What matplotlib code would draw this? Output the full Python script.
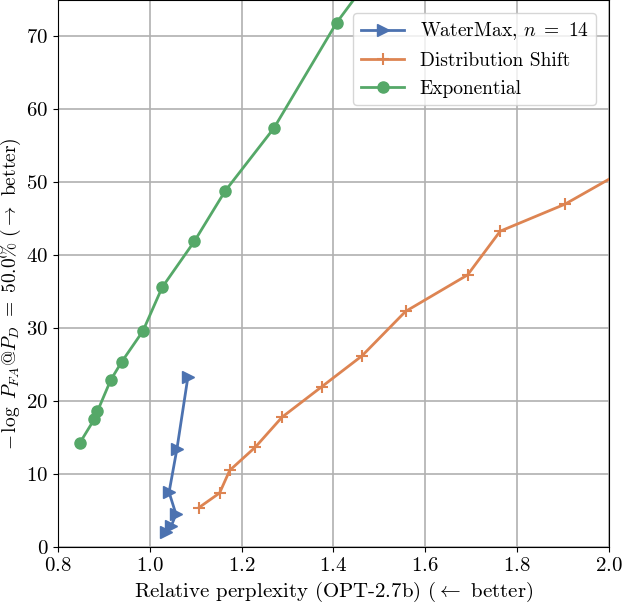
import matplotlib
matplotlib.use("Agg")
import matplotlib.pyplot as plt

plt.rcParams['font.family'] = ['cmr10', 'DejaVu Serif']
plt.rcParams['mathtext.fontset'] = 'cm'
plt.rcParams['axes.formatter.use_mathtext'] = True
plt.rcParams['axes.unicode_minus'] = False

# WaterMax, n = 14
wm_ppl = [1.083, 1.059, 1.042, 1.057, 1.047, 1.035]
wm_score = [23.3, 13.4, 7.5, 4.5, 2.9, 2.0]

# Distribution shift
ds_ppl = [1.107, 1.152, 1.174, 1.230, 1.288, 1.375, 1.462, 1.557, 1.692, 1.763, 1.904, 2.10]
ds_score = [5.4, 7.4, 10.5, 13.7, 17.8, 22.0, 26.2, 32.3, 37.3, 43.3, 47.0, 54.0]

# Exponential
exp_ppl = [0.848, 0.879, 0.886, 0.915, 0.939, 0.985, 1.027, 1.097, 1.164, 1.270, 1.407, 1.55]
exp_score = [14.3, 17.5, 18.6, 22.9, 25.4, 29.6, 35.6, 41.9, 48.8, 57.4, 71.9, 84.0]

blue = '#4C72B0'
orange = '#DD8452'
green = '#55A868'

fig = plt.figure(figsize=(6.23, 6.04), dpi=100)
ax = fig.add_axes([0.093, 0.0944, 0.8845, 0.9056])

ax.plot(wm_ppl, wm_score, '>-', color=blue, lw=2, ms=9, label=r'WaterMax, $n\ =\ 14$')
ax.plot(ds_ppl, ds_score, '+-', color=orange, lw=2, ms=9, mew=1.5, label='Distribution Shift')
ax.plot(exp_ppl, exp_score, 'o-', color=green, lw=2, ms=8, label='Exponential')

ax.set_xlim(0.8, 2.0)
ax.set_ylim(0, 75)
ax.set_xticks([0.8, 1.0, 1.2, 1.4, 1.6, 1.8, 2.0])
ax.set_yticks([0, 10, 20, 30, 40, 50, 60, 70])
ax.grid(True, color='#b0b0b0', lw=1.2)
ax.set_axisbelow(True)
ax.tick_params(labelsize=15)

ax.set_xlabel(r'Relative perplexity (OPT-2.7b) $(\leftarrow$ better)', fontsize=15)
ax.set_ylabel(r'$-\,\log\ P_{FA}@P_D\ =\ 50.0\%\ (\rightarrow$ better)', fontsize=14)
ax.yaxis.set_label_coords(-0.064, 0.464)

ax.legend(loc='upper right', fontsize=14, framealpha=0.8, handlelength=2.2,
          borderaxespad=0.65)

fig.savefig('out.png', dpi=100)
